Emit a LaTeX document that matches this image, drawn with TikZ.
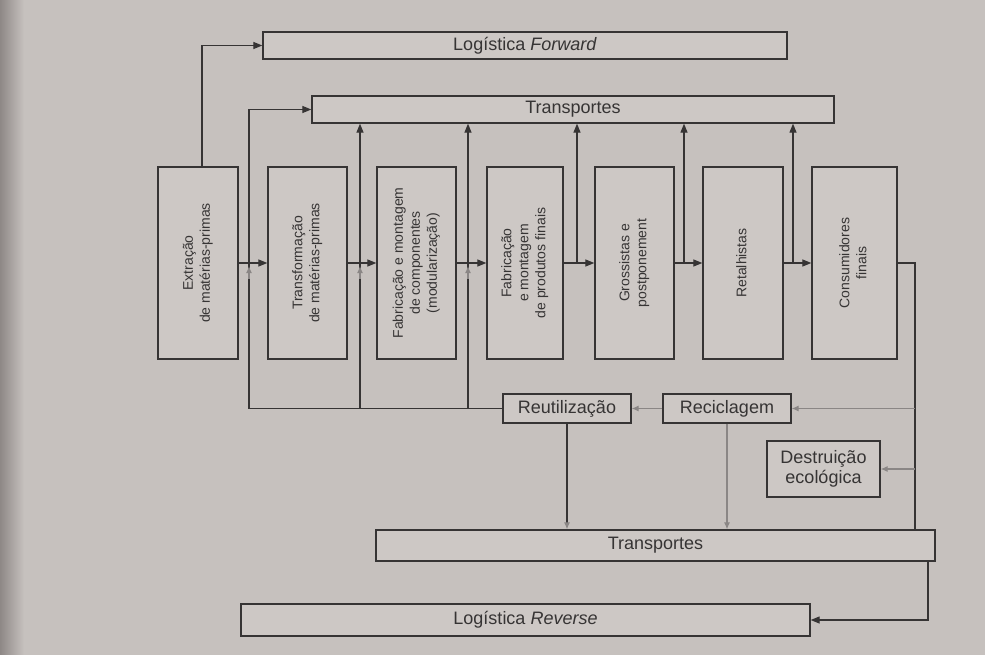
\documentclass[tikz,border=0pt]{standalone}
\usepackage{fontspec}
\usepackage{graphicx}
\setmainfont{Liberation Sans}
\usetikzlibrary{arrows.meta,calc}
\definecolor{bg}{HTML}{C6C1BE}
\definecolor{edge}{HTML}{8E8886}
\definecolor{boxfill}{HTML}{CDC8C5}
\definecolor{ink}{HTML}{363434}
\definecolor{rev}{HTML}{8A8685}
\newcommand\vlabel[1]{\rotatebox{90}{\fontsize{14}{17}\selectfont\begin{tabular}{@{}c@{}}#1\end{tabular}}}
\begin{document}
\begin{tikzpicture}[x=1pt,y=-1pt,
  hbox/.style={draw=ink, line width=1.3pt, fill=boxfill, inner sep=0pt, text=ink, align=center,
    font=\fontsize{18}{20}\selectfont},
  vbox/.style={draw=ink, line width=1.3pt, fill=boxfill, inner sep=0pt, text=ink, minimum height=192pt},
  arr/.style={draw=ink, line width=1.2pt, -{Triangle[length=9pt,width=7pt]}},
  ln/.style={draw=ink, line width=1.2pt},
  garr/.style={draw=rev, line width=1.1pt, -{Latex[length=7pt,width=6pt]}},
  darrg/.style={draw=ink, line width=1.2pt, -{Latex[length=7pt,width=6pt,color=rev]}},
]
\useasboundingbox (0,0) rectangle (985,655);
\fill[bg] (0,0) rectangle (985,655);
\shade[left color=edge, right color=bg] (0,0) rectangle (24,655);

% forward chain boxes
\node[vbox, minimum width=80pt] (b1) at (198,263) {\vlabel{Extração\\de matérias-primas}};
\node[vbox, minimum width=79pt] (b2) at (307.5,263) {\vlabel{Transformação\\de matérias-primas}};
\node[vbox, minimum width=79pt] (b3) at (416.5,263) {\vlabel{Fabricação e montagem\\de componentes\\(modularização)}};
\node[vbox, minimum width=76pt] (b4) at (525,263) {\vlabel{Fabricação\\e montagem\\de produtos finais}};
\node[vbox, minimum width=79pt] (b5) at (634.5,263) {\vlabel{Grossistas e\\postponement}};
\node[vbox, minimum width=80pt] (b6) at (743,263) {\vlabel{Retalhistas}};
\node[vbox, minimum width=85pt] (b7) at (854.5,263) {\vlabel{Consumidores\\finais}};

% horizontal boxes
\node[hbox, minimum width=524pt, minimum height=27pt] (lf) at (525,45.5) {Logística \textit{Forward}};
\node[hbox, minimum width=522pt, minimum height=27pt] (tt) at (573,109.5) {Transportes};
\node[hbox, minimum width=128pt, minimum height=29pt] (reu) at (567,408.5) {Reutilização};
\node[hbox, minimum width=128pt, minimum height=29pt] (rec) at (727,408.5) {Reciclagem};
\node[hbox, minimum width=113pt, minimum height=56pt] (des) at (823.5,469) {Destruição\\ecológica};
\node[hbox, minimum width=559pt, minimum height=31pt] (tb) at (655.5,545.5) {Transportes};
\node[hbox, minimum width=569pt, minimum height=32pt] (lr) at (525.5,620) {Logística \textit{Reverse}};

% junction coordinates
\coordinate (c0) at (249,408.5);
\coordinate (v1) at (360,408.5);
\coordinate (v2) at (468,408.5);
\coordinate (v3) at (577,263);
\coordinate (v4) at (684,263);
\coordinate (v5) at (793,263);
\coordinate (r1) at (915,263);
\coordinate (r2) at (928,600);

% forward connectors
\draw[arr] ([xshift=4pt]b1.north) |- (lf.west);
\draw[arr] (c0) |- (tt.west);
\foreach \v in {v1,v2,v3,v4,v5} \draw[arr] (\v) -- (\v |- tt.south);
\draw[arr] (b1) -- (b2);
\draw[arr] (b2) -- (b3);
\draw[arr] (b3) -- (b4);
\draw[arr] (b4) -- (b5);
\draw[arr] (b5) -- (b6);
\draw[arr] (b6) -- (b7);

% reverse connectors
\draw[ln] (c0) -- (reu.west);
\foreach \v in {c0,v1,v2} \draw[garr] ($(\v |- b1.east)+(0,16)$) -- ($(\v |- b1.east)+(0,3)$);
\draw[ln] (b7) -- (r1) -- (r1 |- tb.north);
\draw[garr] (r1 |- rec.east) -- (rec.east);
\draw[garr] (r1 |- des.east) -- (des.east);
\draw[garr] (rec) -- (reu);
\draw[darrg] (reu.south) -- (reu.south |- tb.north);
\draw[garr] (rec.south) -- (rec.south |- tb.north);
\draw[arr] (r2 |- tb.south) |- (lr.east);
\end{tikzpicture}
\end{document}
